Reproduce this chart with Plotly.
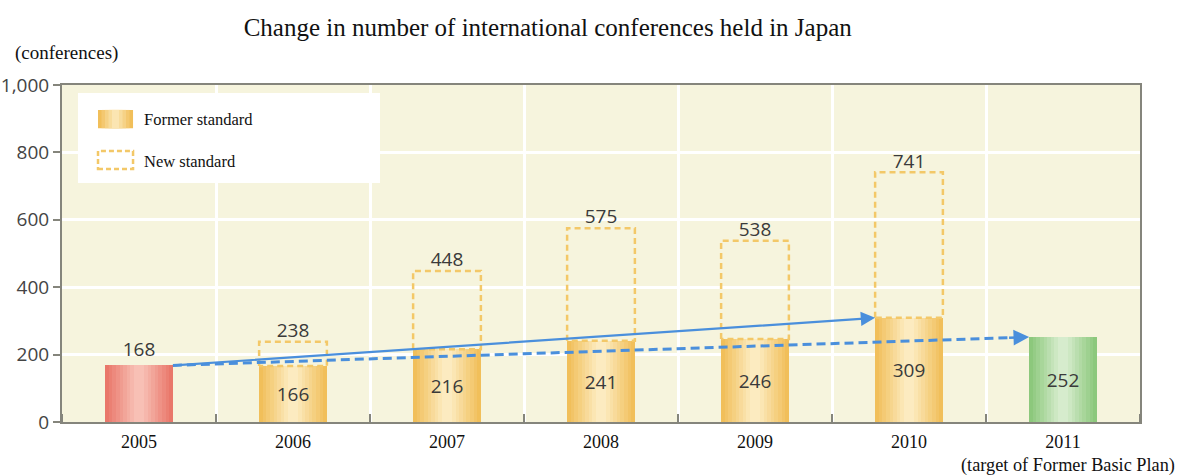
import plotly.graph_objects as go

# ---------------- data ----------------
years = ["2005", "2006", "2007", "2008", "2009", "2010", "2011"]
former_standard = [168, 166, 216, 241, 246, 309, 252]
new_standard = [None, 238, 448, 575, 538, 741, None]
bar_kind = ["actual", "former", "former", "former", "former", "former", "target"]

title_text = "Change in number of international conferences held in Japan"
y_unit_text = "(conferences)"
target_note = "(target of Former Basic Plan)"
legend_labels = ["Former standard", "New standard"]
y_ticks = [0, 200, 400, 600, 800, 1000]

# ---------------- styling ----------------
BAR_W = 0.44
edge_center = {
    "actual": ("#e9776a", "#f8c0b5"),
    "former": ("#f1bf5a", "#fcebc0"),
    "target": ("#8cc87c", "#d6eccd"),
}
DASH_COLOR = "#f3c868"
ARROW_COLOR = "#4a8fdc"
SERIF = "Liberation Serif"
SANS = "Open Sans"


def mix(c1, c2, t):
    a = [int(c1[i:i + 2], 16) for i in (1, 3, 5)]
    b = [int(c2[i:i + 2], 16) for i in (1, 3, 5)]
    return "#" + "".join(f"{round(a[k] + (b[k] - a[k]) * t):02x}" for k in range(3))


x = list(range(len(years)))
fig = go.Figure()

# gradient bars built from layered overlay bars
n_layers = 9
for j in range(n_layers):
    t = j / (n_layers - 1)
    w = BAR_W * (1 - 0.85 * t)
    cols = [mix(edge_center[k][0], edge_center[k][1], t) for k in bar_kind]
    fig.add_trace(go.Bar(x=x, y=former_standard, width=w, marker=dict(color=cols, line=dict(width=0)),
                         hoverinfo="skip", showlegend=False))

# value labels on the bars
fig.add_trace(go.Bar(
    x=x, y=former_standard, width=BAR_W,
    marker=dict(color="rgba(0,0,0,0)", line=dict(width=0)),
    text=[str(v) for v in former_standard],
    textposition=["outside" if k == "actual" else "inside" for k in bar_kind],
    insidetextanchor="middle",
    textfont=dict(family=SANS, size=19, color="#3a3a3a"),
    cliponaxis=False, hoverinfo="skip", showlegend=False))

# dashed outlines for the new standard
dx, dy = [], []
for i, (f, n) in enumerate(zip(former_standard, new_standard)):
    if n is None:
        continue
    h = BAR_W / 2
    dx += [i - h, i - h, i + h, i + h, i - h, None]
    dy += [f, n, n, f, f, None]
fig.add_trace(go.Scatter(x=dx, y=dy, mode="lines",
                         line=dict(color=DASH_COLOR, width=2.5, dash="6px,4px"),
                         hoverinfo="skip", showlegend=False))

# labels above new-standard boxes
nx = [i for i, n in enumerate(new_standard) if n is not None]
ny = [n for n in new_standard if n is not None]
fig.add_trace(go.Scatter(x=nx, y=ny, mode="text", text=[str(v) for v in ny],
                         textposition="top center",
                         textfont=dict(family=SANS, size=19, color="#3a3a3a"),
                         hoverinfo="skip", showlegend=False))

# trend arrows
h = BAR_W / 2
x0, y0 = 0 + h, former_standard[0]
x_solid, y_solid = 5 - h, former_standard[5]
x_dash, y_dash = 6 - h, former_standard[6]
fig.add_trace(go.Scatter(x=[x0, x_dash - 0.12], y=[y0, y0 + (y_dash - y0) * (x_dash - 0.12 - x0) / (x_dash - x0)],
                         mode="lines", line=dict(color=ARROW_COLOR, width=3, dash="9px,5px"),
                         hoverinfo="skip", showlegend=False))

annotations = [
    dict(x=x_solid, y=y_solid, ax=x0, ay=y0, xref="x", yref="y", axref="x", ayref="y",
         showarrow=True, arrowhead=2, arrowsize=1.3, arrowwidth=2.2, arrowcolor=ARROW_COLOR, text=""),
    dict(x=x_dash, y=y_dash, ax=x_dash - 0.14, ay=y0 + (y_dash - y0) * (x_dash - 0.14 - x0) / (x_dash - x0),
         xref="x", yref="y", axref="x", ayref="y",
         showarrow=True, arrowhead=2, arrowsize=1.2, arrowwidth=2.6, arrowcolor=ARROW_COLOR, text=""),
    dict(text=y_unit_text, x=-0.0455, y=1.095, xref="paper", yref="paper", xanchor="left", yanchor="middle",
         showarrow=False, font=dict(family=SERIF, size=19, color="#111")),
    dict(text=target_note, x=1.0345, y=-0.128, xref="paper", yref="paper", xanchor="right", yanchor="middle",
         showarrow=False, font=dict(family=SERIF, size=18.3, color="#111")),
    dict(text=legend_labels[0], x=0.0745, y=0.899, xref="paper", yref="paper", xanchor="left", yanchor="middle",
         showarrow=False, font=dict(family=SERIF, size=16.5, color="#111")),
    dict(text=legend_labels[1], x=0.0745, y=0.774, xref="paper", yref="paper", xanchor="left", yanchor="middle",
         showarrow=False, font=dict(family=SERIF, size=16.5, color="#111")),
]

# custom legend box
shapes = [
    dict(type="rect", xref="paper", yref="paper", x0=0.0148, x1=0.295, y0=0.709, y1=0.976,
         fillcolor="white", line=dict(width=0), layer="above"),
]
sw_x0, sw_x1 = 0.0334, 0.0659
for j in range(5):
    t = j / 4
    inset = (sw_x1 - sw_x0) / 2 * 0.8 * t
    shapes.append(dict(type="rect", xref="paper", yref="paper", x0=sw_x0 + inset, x1=sw_x1 - inset,
                       y0=0.872, y1=0.926, fillcolor=mix("#f1bf5a", "#fbe5b2", t), line=dict(width=0),
                       layer="above"))
shapes.append(dict(type="rect", xref="paper", yref="paper", x0=sw_x0, x1=sw_x1, y0=0.751, y1=0.804,
                   fillcolor="rgba(0,0,0,0)", line=dict(color=DASH_COLOR, width=2.5, dash="5px,3px"),
                   layer="above"))

fig.update_layout(
    width=1183, height=475,
    margin=dict(l=62, r=43, t=85, b=53, autoexpand=False),
    paper_bgcolor="white", plot_bgcolor="#f6f4dd",
    barmode="overlay", bargap=0,
    showlegend=False,
    title=dict(text=title_text, x=0.463, xref="container", xanchor="center", y=0.943, yref="container",
               yanchor="middle", font=dict(family=SERIF, size=25, color="#111")),
    annotations=annotations, shapes=shapes,
)
fig.update_xaxes(
    range=[-0.5, 6.5], tickvals=x, ticktext=years, ticks="", automargin=False,
    tickfont=dict(family=SERIF, size=18, color="#111"), ticklabelstandoff=2,
    showgrid=False, zeroline=False,
    showline=True, mirror=True, linecolor="#85857c", linewidth=2,
    minor=dict(tick0=0.5, dtick=1, ticks="inside", ticklen=8, tickcolor="#85857c", tickwidth=2,
               showgrid=True, gridcolor="white", gridwidth=2.5),
)
fig.update_yaxes(
    range=[0, 1000], tickvals=y_ticks, tickformat=",", ticks="outside", ticklen=7, automargin=False,
    tickcolor="#85857c", tickwidth=2,
    tickfont=dict(family=SANS, size=19, color="#444"),
    showgrid=True, gridcolor="white", gridwidth=2.5, zeroline=False,
    showline=True, mirror=True, linecolor="#85857c", linewidth=2,
)

fig.write_html("out.html")
